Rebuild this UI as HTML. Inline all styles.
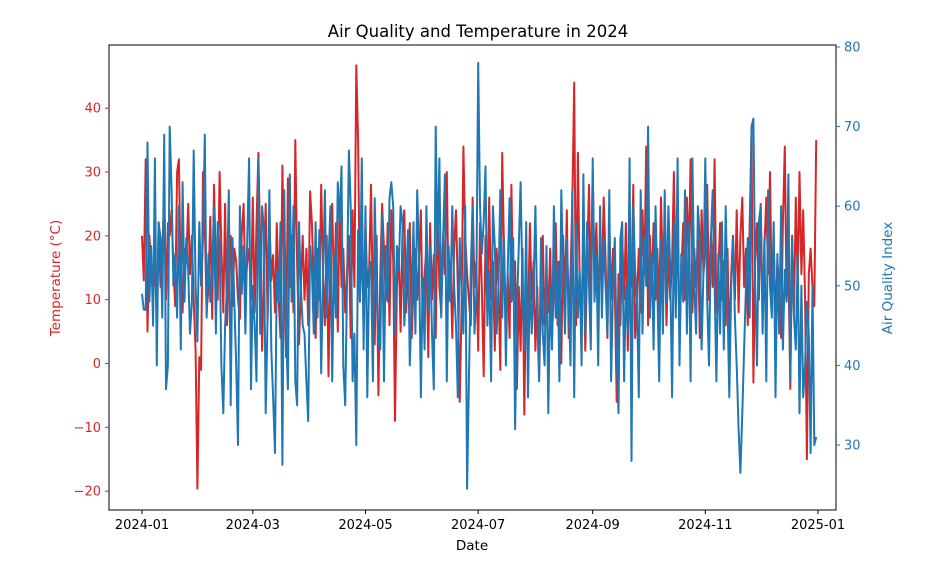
<!DOCTYPE html>
<html><head><meta charset="utf-8"><style>
body{margin:0;background:#fff;font-family:"Liberation Sans","DejaVu Sans",sans-serif}
svg text{font-family:"DejaVu Sans","Liberation Sans",sans-serif}
</style></head><body>
<svg id="chart" width="940" height="580" xmlns="http://www.w3.org/2000/svg">
<rect width="940" height="580" fill="#fff"/>
<text x="478" y="37" text-anchor="middle" font-size="16.5">Air Quality and Temperature in 2024</text>
<g id="grid"></g>
<rect x="109" y="45" width="727" height="465" fill="none" stroke="#000" stroke-width="1"/>
<text x="472" y="550" text-anchor="middle" font-size="13.5">Date</text>
<text transform="translate(60,278) rotate(-90)" text-anchor="middle" font-size="13.5" fill="#d62728">Temperature (°C)</text>
<text transform="translate(892,278) rotate(-90)" text-anchor="middle" font-size="13.5" fill="#1f77b4">Air Quality Index</text>
</svg>
<script>
const xTickLabels=["2024-01","2024-03","2024-05","2024-07","2024-09","2024-11","2025-01"];
const xTickDays=[0,60,121,182,244,305,366];
const tempTicks=[-20,-10,0,10,20,30,40];
const aqiTicks=[30,40,50,60,70,80];
const temperature=[20,13,32,5,20,15,10,17,6,22,12,18,26,10,22,20,24,15,9,30,32,12,8,18,16,25,14,20,10,2,-19.6,
1,-1,30,22,8,12,23,7,28,15,10,30,18,8,25,6,14,20,9,18,16,10,7,20,25,12,16,18,10,
26,8,22,33,18,2,15,25,7,23,13,17,8,22,10,4,31,14,1,29,12,20,8,35,16,3,12,20,10,18,6,
27,22,12,4,18,10,28,14,6,20,-2,16,25,10,22,5,25,12,18,8,14,20,4,24,12,46.7,35,10,20,6,
22,12,15,28,9,3,20,-5,14,25,18,10,22,6,24,16,-9,12,18,5,20,24,8,14,22,4,12,18,10,16,24,
6,14,18,1,22,10,17,4,25,12,8,20,14,30,10,16,4,18,24,12,-6,8,34,20,14,10,6,26,12,16,
2,22,12,-2,20,8,26,10,16,2,18,12,-1,33,18,6,14,4,28,10,16,-4,12,2,18,-8,14,6,22,10,16,
2,12,-2,10,20,6,14,8,18,4,12,22,6,16,0,20,10,24,4,14,25,44,6,33,12,8,20,2,16,28,10,
30,14,22,8,20,12,26,16,4,22,10,18,12,-6,14,6,20,10,22,2,16,12,28,4,10,18,8,24,14,34,
6,20,12,22,10,18,8,26,14,22,6,18,10,16,30,12,20,4,14,22,10,26,16,32,8,18,12,20,4,24,14,
18,28,10,20,12,32,8,14,22,10,16,6,18,2,14,20,10,24,8,20,26,12,18,6,22,36,-3,16,22,10,
25,8,18,26,14,30,10,20,6,16,12,4,22,34,10,16,-4,20,8,26,12,30,14,24,10,-15,14,18,12,9,35];
const aqi=[49,47,47,68,48,55,45,66,40,58,56,46,69,37,40,70,62,50,54,46,60,42,63,48,56,52,44,48,67,50,43,
58,50,56,69,46,54,48,52,60,44,58,55,40,34,45,50,62,35,56,48,40,30,60,49,55,44,56,66,37,
50,45,38,66,44,60,57,34,46,62,42,36,29,52,48,58,27.5,62,44,37,64,48,60,38,35,58,50,45,44,38,33,
55,52,44,58,46,57,39,51,62,46,53,60,38,54,46,63,58,65,40,35,50,67,60,38,44,30,57,48,66,42,
60,36,52,53,38,61,50,43,42,59,38,55,48,61,63,60,44,55,52,60,58,45,50,57,40,48,58,44,62,54,36,
51,42,60,47,55,44,37,70,54,66,46,56,64,38,55,48,60,50,45,36,56,50,44,60,24.5,38,52,60,44,49,
78,60,54,58,65,45,52,38,60,55,44,50,62,46,56,40,52,61,48,56,32,47,55,63,50,42,58,36,52,44,50,
60,46,38,56,44,40,55,34,50,42,60,46,53,38,62,52,44,56,48,40,62,36,58,46,52,40,64,44,58,50,42,
66,48,54,40,60,46,56,50,44,62,38,50,56,42,34,56,58,38,50,44,66,28,60,52,48,36,62,44,56,50,
70,46,54,42,60,50,38,56,44,62,48,60,52,36,58,46,66,40,54,48,62,44,58,38,66,50,44,60,56,42,52,
66,48,40,56,62,50,38,54,44,58,42,60,48,36,50,56,46,40,32,26.5,34,42,50,56,46,70,71,50,40,58,
60,44,56,38,62,50,46,58,36,54,44,60,42,52,48,64,38,56,46,42,54,34,50,36,40,48,44,29,50,30,31];

const NS="http://www.w3.org/2000/svg";
const svg=document.getElementById('chart');
const xDay=d=>142+d*(676/366);
const yTemp=v=>363.5-v*6.383;
const yAqi=v=>445-(v-30)*7.96;
function mk(tag,attrs){const e=document.createElementNS(NS,tag);for(const k in attrs)e.setAttribute(k,attrs[k]);svg.appendChild(e);return e;}

xTickLabels.forEach((lab,i)=>{
  const x=xDay(xTickDays[i]);
  const t=mk('line',{x1:x,x2:x,y1:510,y2:514,stroke:'#000'});
  
  
  const tx=mk('text',{x:x,y:529,'text-anchor':'middle','font-size':'13'});
  tx.textContent=lab;
  
  
});
tempTicks.forEach(v=>{
  const y=yTemp(v);
  const t=mk('line',{x1:105,x2:109,y1:y,y2:y,stroke:'#d62728'});
  
  
  const tx=mk('text',{x:101,y:y+4.5,'text-anchor':'end','font-size':'13',fill:'#d62728'});
  tx.textContent=v<0?'\u2212'+Math.abs(v):v;
  
  
});
aqiTicks.forEach(v=>{
  const y=yAqi(v);
  const t=mk('line',{x1:836,x2:840,y1:y,y2:y,stroke:'#1f77b4'});
  
  
  const tx=mk('text',{x:844,y:y+4.5,'font-size':'13',fill:'#1f77b4'});
  tx.textContent=v;
  
  
});
const tl=mk('polyline',{fill:'none',stroke:'#d62728','stroke-width':'2','stroke-linejoin':'round',
  points:temperature.map((v,i)=>xDay(i).toFixed(1)+','+yTemp(v).toFixed(1)).join(' ')});


const al=mk('polyline',{fill:'none',stroke:'#1f77b4','stroke-width':'2','stroke-linejoin':'round',
  points:aqi.map((v,i)=>xDay(i).toFixed(1)+','+yAqi(v).toFixed(1)).join(' ')});


</script>
</body></html>
